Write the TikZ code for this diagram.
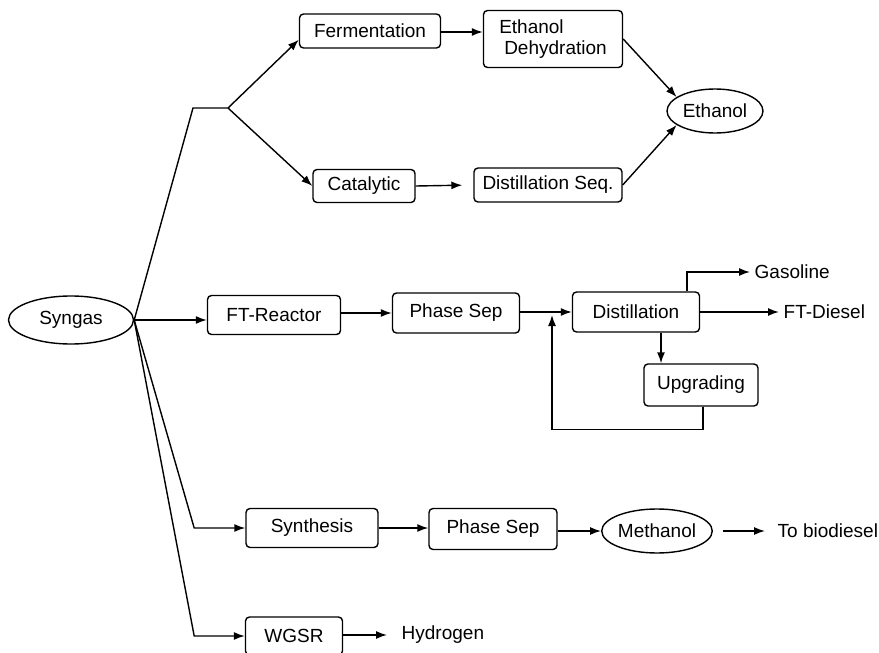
\documentclass[tikz,border=0pt]{standalone}
\usepackage{fontspec}
\setmainfont{Liberation Sans}
\usetikzlibrary{arrows.meta,shapes.geometric}

\tikzset{
  unit/.style={draw, rounded corners=4pt, inner sep=0pt},
  prod/.style={draw, ellipse, inner sep=0pt},
  stream/.style={inner sep=4pt, anchor=west},
}

\begin{document}
\begin{tikzpicture}[x=1pt, y=-1pt, >={Latex[length=11pt,width=8pt]}, line width=1.4pt,
    font=\fontsize{19}{21}\selectfont]
    \useasboundingbox (0,0) rectangle (879,653);

    % --- feed ---
    \node[prod, minimum width=125pt, minimum height=48pt] (syngas) at (71,320) {Syngas};

    % --- ethanol route ---
    \node[unit, minimum width=141pt, minimum height=34pt] (ferm) at (370,31) {Fermentation};
    \node[unit, minimum width=139pt, minimum height=57pt, align=left] (dehyd) at (553,39) {Ethanol\\\hspace{5pt}Dehydration};
    \node[unit, minimum width=102pt, minimum height=33pt] (cat) at (364,186) {Catalytic};
    \node[unit, minimum width=148pt, minimum height=34pt] (dseq) at (548,185) {Distillation Seq.};
    \node[prod, minimum width=96pt, minimum height=44pt] (ethanol) at (715,111) {Ethanol};
    \coordinate (bend) at (193,108);
    \coordinate (fork) at (228,108);

    \draw (syngas.east) -- (bend) -- (fork);
    \draw[->] (fork) -- ([yshift=9pt]ferm.south west);
    \draw[->] (fork) -- (cat.west);
    \draw[->] (ferm.east |- 0,32) -- (dehyd.west |- 0,32);
    \draw[->, shorten >=11pt] (cat.east) -- (dseq.west);
    \draw[->] (dehyd.east) -- (ethanol.160);
    \draw[->] (dseq.east) -- (ethanol.200);

    % --- FT route ---
    \node[unit, minimum width=133pt, minimum height=39pt] (ftr) at (274,315) {FT-Reactor};
    \node[unit, minimum width=127pt, minimum height=40pt] (psep) at (456,313) {Phase Sep};
    \node[unit, minimum width=127pt, minimum height=40pt] (dist) at (636,312) {Distillation};
    \node[unit, minimum width=114pt, minimum height=42pt] (upg) at (701,385) {Upgrading};
    \node[stream] (gas) at (750,272) {Gasoline};
    \node[stream] (diesel) at (779,312) {FT-Diesel};
    \coordinate (mix) at (552,312);

    \draw[->] (syngas.east) -- (syngas.east -| ftr.west);
    \draw[->] (ftr.east |- psep.west) -- (psep.west);
    \draw[->] (psep.east |- dist.west) -- (dist.west);
    \draw[->] ([xshift=51pt]dist.north) |- (gas.west);
    \draw[->] (dist.east) -- (diesel.west);
    \draw[->] ([xshift=25pt]dist.south) -- ([xshift=25pt]dist.south |- upg.north);
    \draw[->] ([xshift=2pt]upg.south) -- ++(0,23) -| ([yshift=-3pt]mix);

    % --- methanol route ---
    \node[unit, minimum width=132pt, minimum height=39pt] (syn) at (312,528) {Synthesis};
    \node[unit, minimum width=128pt, minimum height=41pt] (psep2) at (493,529) {Phase Sep};
    \node[prod, minimum width=97pt, minimum height=44pt] (methanol) at (657,531) {Methanol};
    \node[stream] (bio) at (773,531) {To biodiesel};

    \draw[->] (syngas.east) -- ++(60,208) -- (syn.west);
    \draw[->] (syn.east) -- (syn.east -| psep2.west);
    \draw[->] (psep2.east |- methanol.west) -- (methanol.west);
    \draw[->, shorten >=8pt] ([xshift=10pt]methanol.east) -- (bio.west);

    % --- hydrogen route ---
    \node[unit, minimum width=97pt, minimum height=38pt] (wgsr) at (294,636) {WGSR};
    \node[stream] (hyd) at (397,635) {Hydrogen};

    \draw[->] (syngas.east) -- ++(60,316) -- (wgsr.west);
    \draw[->, shorten >=10pt] (wgsr.east |- hyd.west) -- (hyd.west);
\end{tikzpicture}
\end{document}
